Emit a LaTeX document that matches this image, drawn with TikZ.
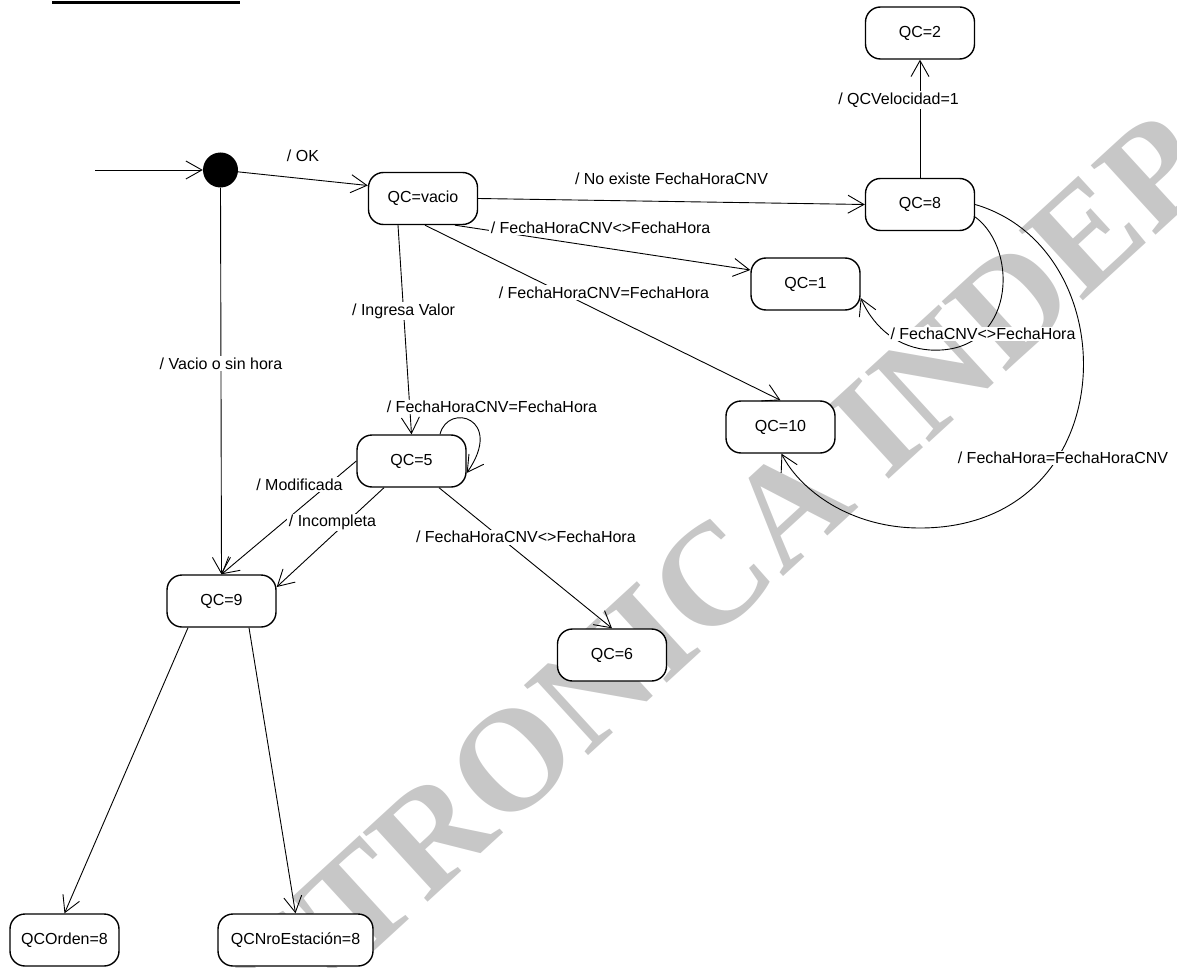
\documentclass[tikz,border=0pt]{standalone}
\usepackage{fontspec}
\setmainfont{Liberation Sans}
\newfontfamily\wmfont{Liberation Serif}
\usetikzlibrary{arrows.meta}
\begin{document}
\begin{tikzpicture}[x=1pt,y=-1pt,
  state/.style={draw, line width=1.4pt, rounded corners=15pt, minimum width=109pt,
    minimum height=52pt, inner sep=0pt, fill=white, font=\fontsize{16}{19}\selectfont},
  init/.style={circle, fill=black, minimum size=35pt, inner sep=0pt},
  tr/.style={line width=0.9pt, -{Straight Barb[length=16pt,width=18pt,line width=0.9pt]}},
  lbl/.style={fill=white, inner sep=1.5pt, font=\fontsize{16}{19}\selectfont},
  plain/.style={inner sep=1.5pt, font=\fontsize{16}{19}\selectfont},
  watermark/.style={text=black!22, font=\wmfont\bfseries\fontsize{145}{145}\selectfont}
]
\useasboundingbox (0,0) rectangle (1177,968);

% background watermark
\node[watermark, rotate=42.5] (wm) at (716,574) {CTRONICA INDEP};

% heading underline
\fill (52,1) rectangle (240,3.7);

% states
\node[init]  (dot)   at (220.5,170) {};
\node[state] (vacio) at (423,198.5) {QC=vacio};
\node[state] (qc2)   at (920,33)    {QC=2};
\node[state] (qc8)   at (920,204.5) {QC=8};
\node[state] (qc1)   at (805.5,284) {QC=1};
\node[state] (qc10)  at (780.5,427) {QC=10};
\node[state] (qc5)   at (411.5,461) {QC=5};
\node[state] (qc9)   at (221.5,601) {QC=9};
\node[state] (qc6)   at (612,655)   {QC=6};
\node[state] (qco)   at (64.5,940)  {QCOrden=8};
\node[state, minimum width=155pt] (qcn) at (295.5,940) {QCNroEstación=8};

% transitions
\coordinate (entry) at (95,170);
\draw[tr] (entry) -- (dot);
\draw[tr] (dot) -- ([yshift=13pt]vacio.west)
  node[plain, pos=.5, yshift=22.5pt] {/ OK};
\draw[tr] (dot.south) -- (qc9.north)
  node[lbl, pos=.455] {/ Vacio o sin hora};
\draw[tr] (vacio.east) -- (qc8.west)
  node[plain, pos=.5, yshift=22.5pt] {/ No existe FechaHoraCNV};
\draw[tr] ([xshift=32pt]vacio.south) -- ([yshift=14pt]qc1.west)
  node[lbl, pos=.493, yshift=19.7pt] {/ FechaHoraCNV<>FechaHora};
\draw[tr] ([xshift=2pt]vacio.south) -- (qc10.north)
  node[lbl, pos=.5035, yshift=21pt] {/ FechaHoraCNV=FechaHora};
\draw[tr] ([xshift=-25pt]vacio.south) -- (qc5.north)
  node[lbl, pos=.412] {/ Ingresa Valor};
\draw[tr] ([xshift=28.5pt]qc5.north) .. controls (448,402) and (505,418) .. ([yshift=-12pt]qc5.east)
  node[lbl, at={(492,407)}] {/ FechaHoraCNV=FechaHora};
\draw[tr] (qc5.west) -- (qc9.north)
  node[lbl, pos=.21, xshift=-28.5pt] {/ Modificada};
\draw[tr] ([xshift=-27.5pt]qc5.south) -- ([yshift=14pt]qc9.east)
  node[lbl, pos=.35, xshift=-14pt] {/ Incompleta};
\draw[tr] ([xshift=27.5pt]qc5.south) -- (qc6.north)
  node[lbl, pos=.352, xshift=26pt] {/ FechaHoraCNV<>FechaHora};
\draw[tr] ([xshift=-33.5pt]qc9.south) -- (qco.north);
\draw[tr] ([xshift=27.5pt]qc9.south) -- (qcn.north);
\draw[tr] (qc8.north) -- (qc2.south)
  node[lbl, pos=.658, xshift=-21.5pt] {/ QCVelocidad=1};
\draw[tr] ([yshift=-12.5pt]qc8.east) .. controls (1020,250) and (1015,355) .. (930,350)
  .. controls (900,348) and (875,330) .. ([yshift=-14pt]qc1.east)
  node[lbl, at={(983,334)}] {/ FechaCNV<>FechaHora};
\draw[tr] (qc8.east) .. controls (1130,250) and (1125,528) .. (920,528)
  .. controls (850,528) and (800,490) .. ([xshift=1pt]qc10.south)
  node[lbl, at={(1063,458)}] {/ FechaHora=FechaHoraCNV};
\end{tikzpicture}
\end{document}
